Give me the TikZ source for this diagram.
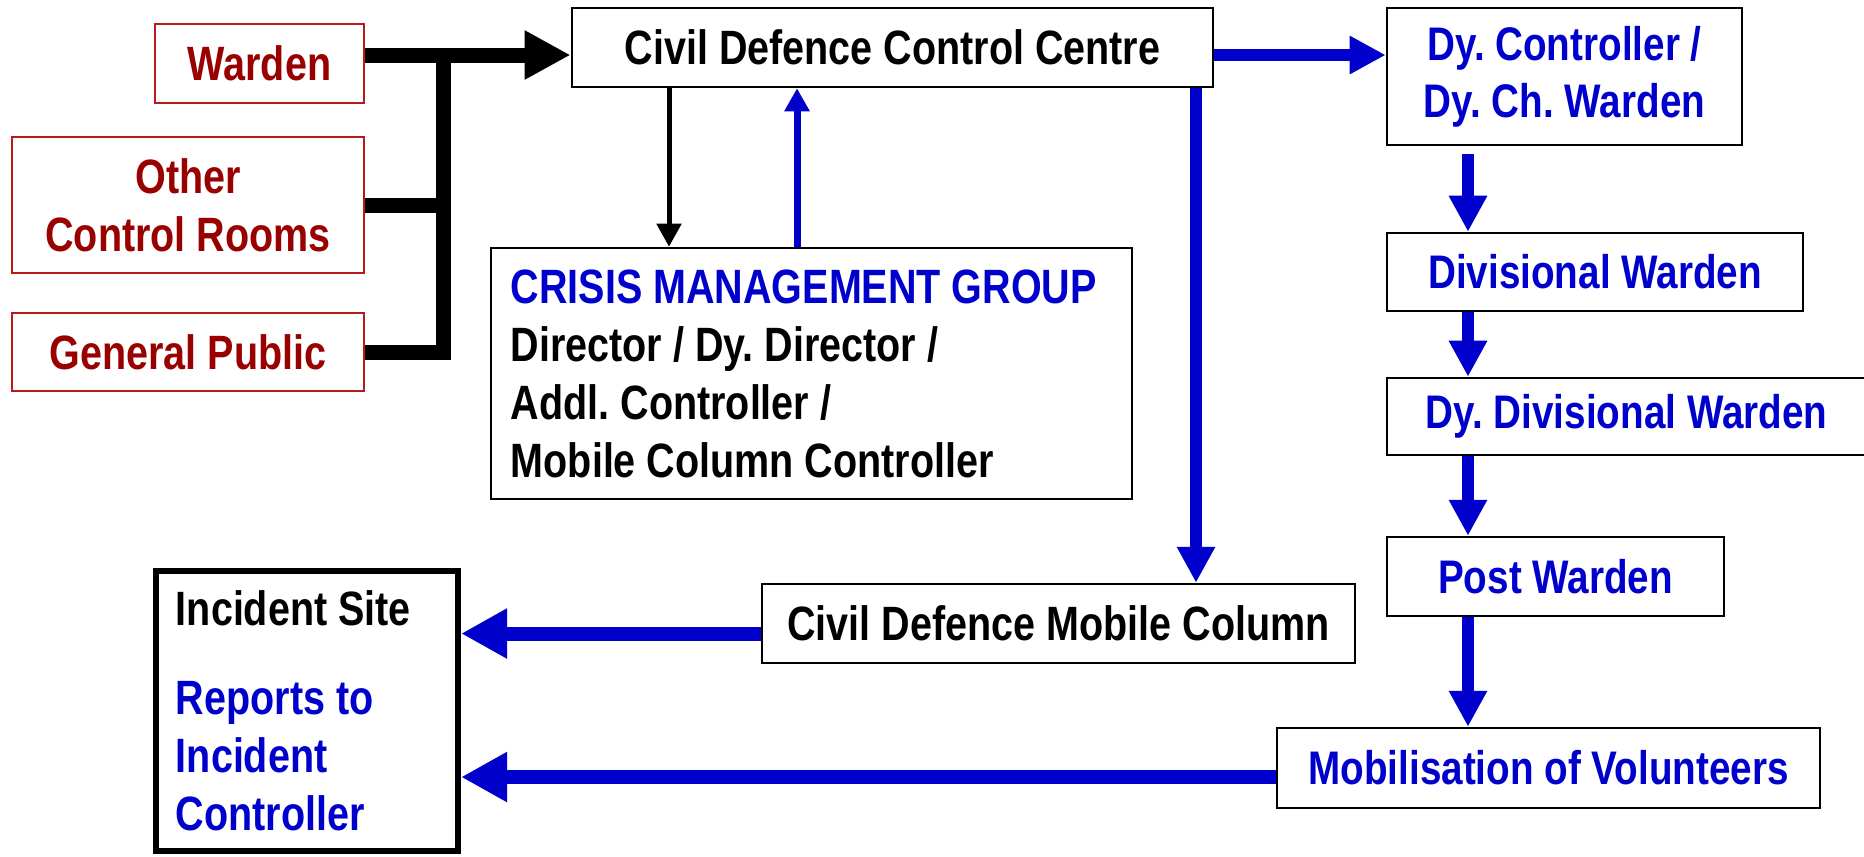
\documentclass[tikz,border=0pt]{standalone}
\usepackage{fontspec}
\setmainfont{Liberation Sans}
\newfontfamily\narrowsf[FakeStretch=0.82]{Liberation Sans}
\usetikzlibrary{arrows.meta}
\definecolor{cdred}{RGB}{153,0,0}
\definecolor{cdredline}{RGB}{185,25,25}
\definecolor{cdblue}{RGB}{0,0,204}
\frenchspacing
\tikzset{
  narrowtext/.style={font=\narrowsf\bfseries\frenchspacing\fontsize{13.7}{16.5}\selectfont},
  widetext/.style={font=\narrowsf\bfseries\frenchspacing\fontsize{13.4}{16.2}\selectfont},
  srcbox/.style={draw=cdredline, line width=0.7pt, text=cdred, narrowtext, align=center, inner sep=0pt},
  ctrlbox/.style={draw=black, line width=0.7pt, text=black, narrowtext, align=center, inner sep=0pt},
  rankbox/.style={draw=black, line width=0.7pt, text=cdblue, widetext, align=center, inner sep=0pt},
  sitebox/.style={draw=black, line width=0.06cm, narrowtext, align=flush left, inner xsep=0.2cm, inner ysep=0pt,
    text width=2.62cm, minimum width=3.02cm, minimum height=2.80cm},
  bus/.style={draw=black, line width=0.15cm},
  thinblack/.style={draw=black, line width=0.05cm, -{Triangle[length=0.23cm,width=0.24cm]}},
  thinblue/.style={draw=cdblue, line width=0.07cm, -{Triangle[length=0.23cm,width=0.24cm]}},
  thickblue/.style={draw=cdblue, line width=0.12cm, -{Triangle[length=0.36cm,width=0.36cm]}},
  wideblue/.style={draw=cdblue, line width=0.14cm, -{Triangle[length=0.46cm,width=0.47cm]}}
}
\begin{document}
\begin{tikzpicture}[x=0.01cm, y=-0.01cm]
    \useasboundingbox (0,0) rectangle (1864,856);
    \node[srcbox, minimum width=2.09cm, minimum height=0.79cm] (warden) at (259.5,63.5) {Warden};
    \node[srcbox, minimum width=3.52cm, minimum height=1.36cm] (others) at (188,205) {Other\\Control Rooms};
    \node[srcbox, minimum width=3.52cm, minimum height=0.78cm] (public) at (188,352) {General Public};
    \node[ctrlbox, minimum width=6.41cm, minimum height=0.79cm] (cdcc) at (892.5,47.5) {Civil Defence Control Centre};
    \node[ctrlbox, align=flush left, inner xsep=0.2cm, text width=6.01cm, minimum width=6.41cm, minimum height=2.51cm] (cmg) at (811.5,373.5)
        {{\color{cdblue}CRISIS MANAGEMENT GROUP}\\Director / Dy. Director /\\Addl. Controller /\\Mobile Column Controller};
    \node[ctrlbox, minimum width=5.93cm, minimum height=0.79cm] (cdmc) at (1058.5,623.5) {Civil Defence Mobile Column};
    \node[sitebox] (site) at (307,711) {Incident Site\\[0.31cm]\color{cdblue}Reports to\\Incident\\Controller};
    \node[rankbox, minimum width=3.55cm, minimum height=1.37cm] (dyc) at (1564.5,76.5) {Dy. Controller /\\Dy. Ch. Warden};
    \node[rankbox, minimum width=4.16cm, minimum height=0.78cm] (divw) at (1595,272) {Divisional Warden};
    \node[rankbox, minimum width=4.79cm, minimum height=0.77cm] (dydivw) at (1626.5,416.5) {Dy. Divisional Warden};
    \node[rankbox, minimum width=3.37cm, minimum height=0.79cm] (postw) at (1555.5,576.5) {Post Warden};
    \node[rankbox, minimum width=5.43cm, minimum height=0.80cm] (mobvol) at (1548.5,768) {Mobilisation of Volunteers};
    \coordinate (hub) at (443,55);
    \coordinate (spine) at (1468,0);
    \draw[bus, -{Triangle[length=0.46cm,width=0.46cm]}] (warden.east |- hub) -- (cdcc.west |- hub);
    \draw[bus] (others.east) -- (others.east -| hub);
    \draw[bus] (public.east) -| (hub);
    \draw[thinblack] (cdcc.south -| 669,0) -- (cmg.north -| 669,0);
    \draw[thinblue] (cmg.north -| 797,0) -- (cdcc.south -| 797,0);
    \draw[thickblue] (cdcc.east |- hub) -- (dyc.west |- hub);
    \draw[thickblue] (cdcc.south -| 1196,0) -- (cdmc.north -| 1196,0);
    \draw[thickblue] ([yshift=-0.08cm]dyc.south -| spine) -- (divw.north -| spine);
    \draw[thickblue] (divw.south -| spine) -- (dydivw.north -| spine);
    \draw[thickblue] (dydivw.south -| spine) -- (postw.north -| spine);
    \draw[thickblue] (postw.south -| spine) -- (mobvol.north -| spine);
    \draw[wideblue] ([yshift=-0.1cm]cdmc.west) -- ([yshift=-0.1cm]cdmc.west -| site.east);
    \draw[wideblue] ([yshift=-0.09cm]mobvol.west) -- ([yshift=-0.09cm]mobvol.west -| site.east);
\end{tikzpicture}
\end{document}
